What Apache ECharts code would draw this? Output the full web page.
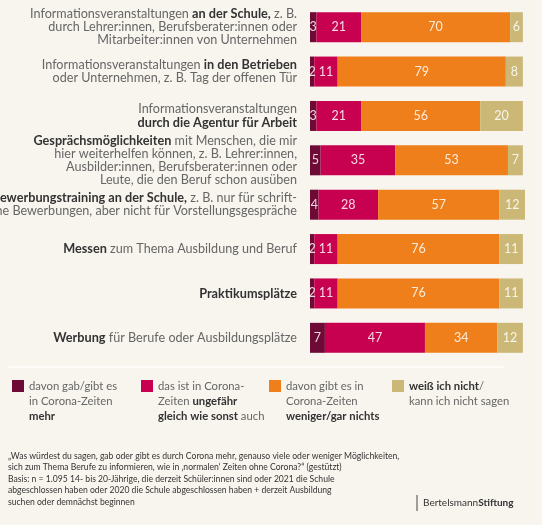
<!DOCTYPE html>
<html><head><meta charset="utf-8">
<script src="https://cdn.jsdelivr.net/npm/echarts@6/dist/echarts.min.js"></script>
<style>html,body{margin:0;padding:0;background:#f8f5ee}#c{width:542px;height:525px}</style>
</head><body><div id="c"></div>
<script>
const categories = [
  'Informationsveranstaltungen {b|an der Schule,} z. B.\ndurch Lehrer:innen, Berufsberater:innen oder\nMitarbeiter:innen von Unternehmen',
  'Informationsveranstaltungen {b|in den Betrieben}\noder Unternehmen, z. B. Tag der offenen Tür',
  'Informationsveranstaltungen\n{b|durch die Agentur für Arbeit}',
  '{b|Gesprächsmöglichkeiten} mit Menschen, die mir\nhier weiterhelfen können, z. B. Lehrer:innen,\nAusbilder:innen, Berufsberater:innen oder\nLeute, die den Beruf schon ausüben',
  '{b|Bewerbungstraining an der Schule,} z. B. nur für schrift-\nliche Bewerbungen, aber nicht für Vorstellungsgespräche',
  '{b|Messen} zum Thema Ausbildung und Beruf',
  '{b|Praktikumsplätze}',
  '{b|Werbung} für Berufe oder Ausbildungsplätze'
];
const mehr      = [3, 2, 3, 5, 4, 2, 2, 7];
const gleich    = [21, 11, 21, 35, 28, 11, 11, 47];
const weniger   = [70, 79, 56, 53, 57, 76, 76, 34];
const weissNicht= [6, 8, 20, 7, 12, 11, 11, 12];
const seriesNames = ['mehr', 'gleich', 'weniger', 'weissnicht'];
const legendLabels = [
  'davon gab/gibt es\nin Corona-Zeiten\n{b|mehr}',
  'das ist in Corona-\nZeiten {b|ungefähr}\n{b|gleich wie sonst} auch',
  'davon gibt es in\nCorona-Zeiten\n{b|weniger/gar nichts}',
  '{b|weiß ich nicht}/\nkann ich nicht sagen'
];
const footnoteLines = [
  '„Was würdest du sagen, gab oder gibt es durch Corona mehr, genauso viele oder weniger Möglichkeiten,',
  'sich zum Thema Berufe zu informieren, wie in ‚normalen‘ Zeiten ohne Corona?“ (gestützt)',
  'Basis: n = 1.095 14- bis 20-Jährige, die derzeit Schüler:innen sind oder 2021 die Schule',
  'abgeschlossen haben oder 2020 die Schule abgeschlossen haben + derzeit Ausbildung',
  'suchen oder demnächst beginnen'
];

const colors = ['#6d0a35', '#c7004f', '#ef7f1a', '#cbb876'];
const values = [mehr, gleich, weniger, weissNicht];
const FONT = 'Lato';

const chart = echarts.init(document.getElementById('c'));
const legendLefts = [12, 141, 269, 392];
const legendLines = [3, 3, 3, 2];
const LH = 15;
const LFS = 11.3;

const option = {
  backgroundColor: '#f8f5ee',
  animation: false,
  grid: { left: 310, right: 17, top: 5, bottom: 165, containLabel: false, outerBoundsMode: 'none' },
  xAxis: { type: 'value', min: 0, max: 101, show: false },
  yAxis: {
    type: 'category', inverse: true, data: categories,
    axisLine: { show: false }, axisTick: { show: false },
    axisLabel: {
      margin: 13, align: 'right', verticalAlign: 'middle',
      fontFamily: FONT, fontSize: 12.6, color: '#666', lineHeight: 13.2,
      rich: { b: { fontFamily: FONT, fontSize: 12.7, fontWeight: 'bold', color: '#333', lineHeight: 13.2, align: 'right' } }
    }
  },
  legend: seriesNames.map((n, i) => {
    const h = legendLines[i] * LH;
    const p = h - 15;
    const boxTop = 6 - (h + p) / 2;
    return {
      data: [n], left: legendLefts[i], top: 380 + boxTop, padding: 0,
      itemWidth: 12, itemHeight: 12, icon: 'rect', selectedMode: false,
      formatter: () => legendLabels[i],
      textStyle: {
        fontFamily: FONT, fontSize: LFS, color: '#666', lineHeight: LH,
        padding: [p, 0, 0, 0],
        rich: { b: { fontFamily: FONT, fontSize: LFS, fontWeight: 'bold', color: '#333', lineHeight: LH } }
      }
    };
  }),
  series: seriesNames.map((n, i) => ({
    name: n, type: 'bar', stack: 'total', data: values[i],
    barWidth: 30,
    itemStyle: { color: colors[i] },
    label: {
      show: true, position: 'inside', formatter: '{c}',
      fontFamily: FONT, fontSize: 12.5, color: 'rgba(255,255,255,0.85)'
    }
  })),
  graphic: [
    { type: 'line', shape: { x1: 8, y1: 367, x2: 505, y2: 367 }, style: { stroke: '#fefdfa', lineWidth: 1.5 } },
    { type: 'text', left: 8, top: 450, style: { text: footnoteLines.join('\n'), font: '8.6px Lato', lineHeight: 11.5, fill: '#333' } },
    { type: 'line', shape: { x1: 417, y1: 495, x2: 417, y2: 511 }, style: { stroke: '#444', lineWidth: 1 } },
    { type: 'text', left: 423, top: 497.5, style: {
        text: 'Bertelsmann{b|Stiftung}', font: '10px Lato', fill: '#333',
        rich: { b: { font: 'bold 10px Lato', fill: '#333' } } } }
  ]
};
chart.setOption(option);
</script>
</body></html>
